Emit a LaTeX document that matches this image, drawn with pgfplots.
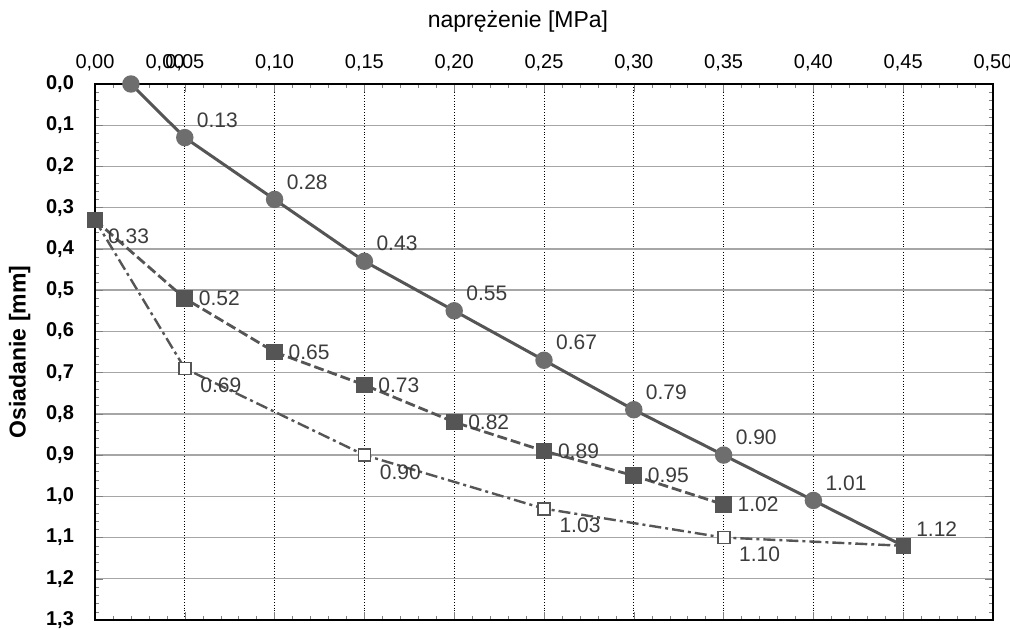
\documentclass[border=0pt]{standalone}
\usepackage{fontspec}
\setmainfont{Liberation Sans}
\usepackage{pgfplots}
\pgfplotsset{compat=1.18}
\definecolor{lin}{RGB}{85,85,85}
\definecolor{circ}{RGB}{110,110,110}
\definecolor{lab}{RGB}{60,60,60}
\begin{document}
\begin{tikzpicture}
\path[use as bounding box] (-47.5pt,-5pt) rectangle (457.5pt,310pt);
\begin{axis}[
  at={(0,0)}, anchor=south west,
  scale only axis, width=449pt, height=268pt,
  xmin=0, xmax=0.5, ymin=0, ymax=1.3,
  y dir=reverse,
  xtick={0,0.05,...,0.5}, ytick={0,0.1,...,1.3},
  minor x tick num=4, minor y tick num=4,
  xticklabel pos=top,
  tick align=inside,
  major tick length=4pt, minor tick length=2pt,
  /pgf/number format/assume math mode=true,
  x tick label style={/pgf/number format/.cd, fixed, fixed zerofill, precision=2, use comma, /tikz/.cd, font=\fontsize{10}{11}\selectfont, yshift=3pt},
  y tick label style={/pgf/number format/.cd, fixed, fixed zerofill, precision=1, use comma, /tikz/.cd, font=\bfseries\fontsize{10}{11}\selectfont, xshift=-7pt},
  xlabel={naprężenie [MPa]},
  ylabel={\bfseries Osiadanie [mm]},
  xlabel style={font=\fontsize{11.5}{12}\selectfont, yshift=4pt, xshift=-13pt},
  ylabel style={font=\fontsize{11.5}{12}\selectfont, at={(axis description cs:-0.084,0.5)}, anchor=center},
  grid=major,
  x grid style={black, densely dotted, line width=0.5pt},
  y grid style={gray!70, line width=0.7pt},
  axis line style={black, line width=0.8pt},
  extra x ticks={0.039}, extra x tick labels={0{,}00},
  extra x tick style={grid=none, major tick length=0pt},
  clip=false,
  every node near coord/.append style={font=\fontsize{10.5}{11}\selectfont, text=lab},
]
% solid series with circles
\addplot[lin, line width=1.5pt, mark=*, mark size=3.6pt, mark options={fill=circ, draw=circ},
  nodes near coords, point meta=explicit symbolic,
  every node near coord/.append style={anchor=south west, xshift=2pt, yshift=1pt}]
  table[meta=l] {
x y l
0.02 0.00 {}
0.05 0.13 0.13
0.10 0.28 0.28
0.15 0.43 0.43
0.20 0.55 0.55
0.25 0.67 0.67
0.30 0.79 0.79
0.35 0.90 0.90
0.40 1.01 1.01
};
\addplot[lin, line width=1.5pt, forget plot] coordinates {(0.40,1.01) (0.45,1.12)};
% dashed series with filled squares
\addplot[lin, line width=1.4pt, dash pattern=on 5pt off 2pt, mark=square*, mark size=3.5pt, mark options={solid, fill=lin, draw=lin},
  nodes near coords, point meta=explicit symbolic,
  every node near coord/.append style={anchor=west, xshift=3pt}]
  table[meta=l] {
x y l
0.00 0.33 {}
0.05 0.52 0.52
0.10 0.65 0.65
0.15 0.73 0.73
0.20 0.82 0.82
0.25 0.89 0.89
0.30 0.95 0.95
0.35 1.02 1.02
};
% dash-dot series with open squares
\addplot[lin, line width=1.2pt, dash pattern=on 6pt off 2pt on 1.5pt off 2pt, mark=square*, mark size=3pt, mark options={solid, fill=white, draw=lin, line width=0.9pt},
  nodes near coords, point meta=explicit symbolic,
  every node near coord/.append style={anchor=north west, xshift=4pt, yshift=-1pt}]
  table[meta=l] {
x y l
0.00 0.33 {}
0.05 0.69 0.69
0.15 0.90 0.90
0.25 1.03 1.03
0.35 1.10 1.10
0.45 1.12 {}
};
% common end point and start label
\addplot[only marks, mark=square*, mark size=3.6pt, mark options={fill=lin, draw=lin},
  nodes near coords, point meta=explicit symbolic,
  every node near coord/.append style={anchor=south west, xshift=3pt, yshift=1pt}]
  table[meta=l] {
x y l
0.45 1.12 1.12
};
\addplot[only marks, mark=square*, mark size=3.6pt, mark options={fill=lin, draw=lin},
  nodes near coords, point meta=explicit symbolic,
  every node near coord/.append style={anchor=north west, xshift=3pt, yshift=-1pt}]
  table[meta=l] {
x y l
0.00 0.33 0.33
};
\end{axis}
\end{tikzpicture}
\end{document}
